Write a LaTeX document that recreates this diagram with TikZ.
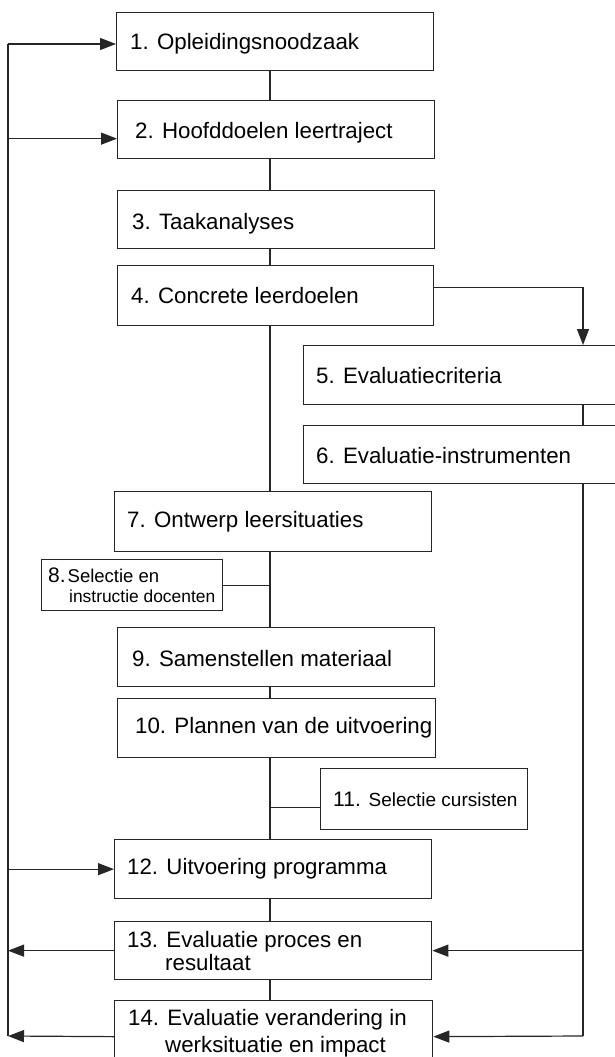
\documentclass[tikz,border=0pt]{standalone}
\usepackage{fontspec}
\setmainfont{Liberation Sans}
\usetikzlibrary{arrows.meta}
\begin{document}
\begin{tikzpicture}[x=1pt,y=-1pt,
  stage/.style={draw=black!85, line width=1.3pt, rectangle, anchor=north west, inner sep=0pt},
  lbl/.style={anchor=base west, inner sep=0pt, font=\fontsize{22.3}{24}\selectfont},
  small/.style={anchor=base west, inner sep=0pt, font=\fontsize{18.5}{21}\selectfont},
  link/.style={draw=black!85, line width=1.2pt},
  arr/.style={link, -{Triangle[length=16pt,width=12pt]}}]
\useasboundingbox (0,0) rectangle (615,1057);
\clip (0,0) rectangle (615,1057);

% stages of the training cycle
\node[stage, minimum width=317, minimum height=58] (b1)  at (116,12)   {};
\node[stage, minimum width=317, minimum height=58] (b2)  at (117,100)  {};
\node[stage, minimum width=317, minimum height=58] (b3)  at (117,190)  {};
\node[stage, minimum width=316, minimum height=60] (b4)  at (117,265)  {};
\node[stage, minimum width=322, minimum height=59] (b5)  at (303,345)  {};
\node[stage, minimum width=322, minimum height=58] (b6)  at (303,425)  {};
\node[stage, minimum width=317, minimum height=60] (b7)  at (114,491)  {};
\node[stage, minimum width=181, minimum height=51] (b8)  at (41,559)   {};
\node[stage, minimum width=317, minimum height=59] (b9)  at (117,627)  {};
\node[stage, minimum width=318, minimum height=59] (b10) at (117,698)  {};
\node[stage, minimum width=207, minimum height=61] (b11) at (320,768)  {};
\node[stage, minimum width=317, minimum height=59] (b12) at (114,839)  {};
\node[stage, minimum width=317, minimum height=58] (b13) at (114,921)  {};
\node[stage, minimum width=318, minimum height=72] (b14) at (114,1000) {};

% labels
\node[lbl] (t1)  at (130,50)  {1. Opleidingsnoodzaak};
\node[lbl] (t2)  at (135,138) {2. Hoofddoelen leertraject};
\node[lbl] (t3)  at (132,229) {3. Taakanalyses};
\node[lbl] (t4)  at (131,303) {4. Concrete leerdoelen};
\node[lbl] (t5)  at (316,383) {5. Evaluatiecriteria};
\node[lbl] (t6)  at (316,463) {6. Evaluatie-instrumenten};
\node[lbl] (t7)  at (127,527) {7. Ontwerp leersituaties};
\node[small] (t8a) at (48,582) {{\fontsize{21}{24}\selectfont 8.}\kern2pt Selectie en};
\node[small, font=\fontsize{17.4}{20}\selectfont] (t8b) at (69,602) {instructie docenten};
\node[lbl] (t9)  at (132,666) {9. Samenstellen materiaal};
\node[lbl] (t10) at (135,733) {10. Plannen van de uitvoering};
\node[small] (t11) at (333,806) {{\fontsize{21}{24}\selectfont 11. }\fontsize{19}{22}\selectfont Selectie cursisten};
\node[lbl] (t12) at (127,874) {12. Uitvoering programma};
\node[lbl] (t13a) at (127,947) {13. Evaluatie proces en};
\node[lbl] (t13b) at (165,970) {resultaat};
\node[lbl] (t14a) at (128,1025) {14. Evaluatie verandering in};
\node[lbl] (t14b) at (165,1052) {werksituatie en impact};

% main spine
\coordinate (sp) at (270,0);
\draw[link] (b1.south -| sp)  -- (b2.north -| sp);
\draw[link] (b2.south -| sp)  -- (b3.north -| sp);
\draw[link] (b3.south -| sp)  -- (b4.north -| sp);
\draw[link] (b4.south -| sp)  -- (b7.north -| sp);
\draw[link] (b7.south -| sp)  -- (b9.north -| sp);
\draw[link] (b9.south -| sp)  -- (b10.north -| sp);
\draw[link] (b10.south -| sp) -- (b12.north -| sp);
\draw[link] (b12.south -| sp) -- (b13.north -| sp);
\draw[link] (b13.south -| sp) -- (b14.north -| sp);
\draw[link] (b8.east) -- (b8.east -| sp);
\draw[link] ([yshift=-8.5pt]b11.west) -- ([yshift=-8.5pt]b11.west -| sp);

% evaluation branch on the right
\coordinate (rt) at (583,0);
\coordinate (rb) at (583,1036);
\draw[arr] ([yshift=8pt]b4.east) -| (b5.north -| rt);
\draw[link] (b5.south -| rt) -- (b6.north -| rt);
\draw[link] (b6.south -| rt) -- (rb);
\draw[arr] (rt |- b13.east) -- (b13.east);
\draw[arr] (rb) -- (b14.east);

% feedback loop on the left
\coordinate (lt) at (8,44);
\coordinate (lb) at (8,1036);
\draw[link] (lt) -- (lb);
\draw[arr] (lt) -- (lt -| b1.west);
\draw[arr] ([yshift=-9pt]b2.west -| lt) -- ([yshift=-9pt]b2.west);
\draw[arr] (lt |- b12.west) -- (b12.west);
\draw[arr] (b13.west) -- (lt |- b13.west);
\draw[arr] (b14.west) -- (lb);
\end{tikzpicture}
\end{document}
